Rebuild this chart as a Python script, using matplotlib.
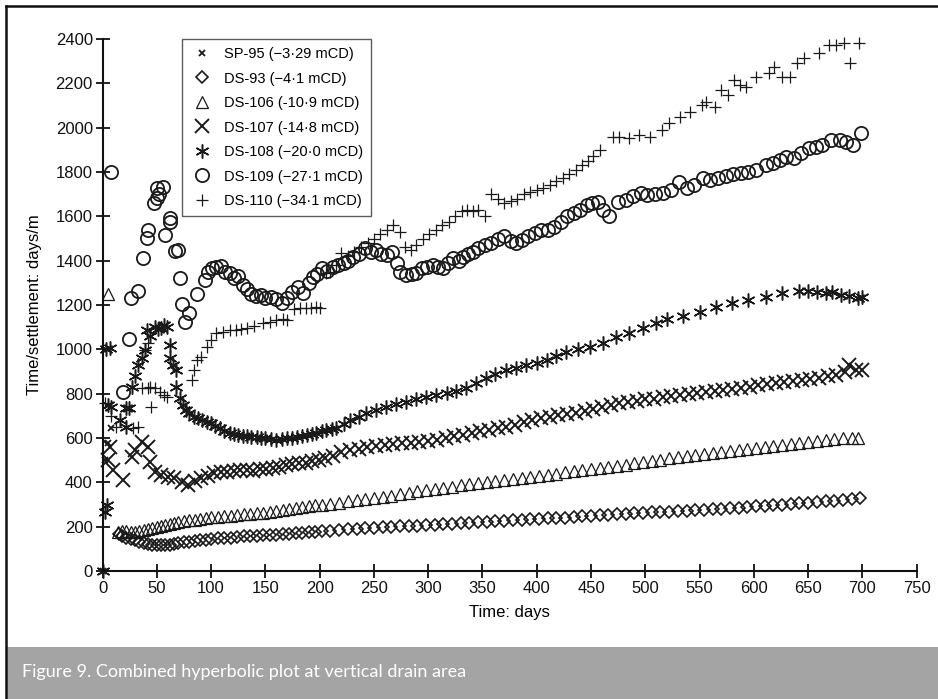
import matplotlib
matplotlib.use("Agg")
import matplotlib.pyplot as plt
from matplotlib.patches import Rectangle
from matplotlib.lines import Line2D

plt.rcParams['font.family'] = ['Liberation Sans', 'DejaVu Sans']

# SP-95 (-3.29 mCD)
sp95_days = [0, 2, 5, 8]
sp95_vals = [0, 501, 576, 644]

# DS-93 (-4.1 mCD)
ds93_days = [15, 18, 22, 26, 30, 34, 38, 42, 46, 50,
             54, 58, 62, 66, 70, 75, 80, 85, 90, 95,
             100, 106, 112, 118, 124, 130, 136, 142, 148, 154,
             160, 166, 172, 178, 184, 190, 196, 202, 210, 218,
             226, 234, 242, 250, 258, 266, 274, 282, 290, 298,
             306, 314, 322, 330, 338, 346, 354, 362, 370, 378,
             386, 394, 402, 410, 418, 426, 434, 442, 450, 458,
             466, 474, 482, 490, 498, 506, 514, 522, 530, 538,
             546, 554, 562, 570, 578, 586, 594, 602, 610, 618,
             626, 634, 642, 650, 658, 666, 674, 682, 690, 698]
ds93_vals = [165, 158, 150, 146, 140, 133, 126, 121, 118, 117,
             116, 117, 118, 121, 125, 129, 132, 135, 138, 141,
             144, 147, 149, 151, 153, 156, 158, 160, 161, 163,
             164, 166, 168, 170, 172, 175, 177, 179, 182, 185,
             188, 190, 192, 194, 197, 199, 201, 203, 205, 207,
             209, 211, 213, 215, 217, 220, 222, 224, 227, 229,
             231, 233, 235, 237, 239, 241, 243, 246, 250, 252,
             254, 256, 258, 260, 262, 264, 266, 268, 270, 272,
             274, 276, 279, 281, 284, 286, 289, 291, 294, 296,
             299, 302, 305, 308, 311, 314, 317, 320, 324, 330]

# DS-106 (-10.9 mCD)
ds106_days = [5, 14, 18, 22, 26, 30, 34, 38, 42, 46, 50,
              54, 58, 62, 66, 70, 75, 80, 85, 90, 95,
              100, 106, 112, 118, 124, 130, 136, 142, 148, 154,
              160, 166, 172, 178, 184, 190, 196, 202, 210, 218,
              226, 234, 242, 250, 258, 266, 274, 282, 290, 298,
              306, 314, 322, 330, 338, 346, 354, 362, 370, 378,
              386, 394, 402, 410, 418, 426, 434, 442, 450, 458,
              466, 474, 482, 490, 498, 506, 514, 522, 530, 538,
              546, 554, 562, 570, 578, 586, 594, 602, 610, 618,
              626, 634, 642, 650, 658, 666, 674, 682, 690, 696]
ds106_vals = [1250, 175, 180, 182, 178, 176, 180, 186, 190, 196, 200,
              204, 208, 212, 215, 220, 224, 228, 232, 236, 238,
              242, 245, 247, 249, 252, 255, 257, 260, 263, 266,
              270, 274, 280, 284, 288, 292, 296, 299, 304, 309,
              314, 319, 323, 328, 334, 340, 347, 354, 360, 366,
              371, 376, 381, 386, 391, 396, 401, 405, 409, 413,
              418, 422, 427, 432, 438, 445, 450, 455, 460, 465,
              470, 475, 480, 486, 492, 498, 503, 508, 513, 518,
              522, 527, 532, 536, 541, 546, 551, 556, 560, 565,
              569, 574, 578, 583, 587, 591, 595, 598, 600, 598]

# DS-107 (-14.8 mCD)
ds107_days = [5, 7, 10, 19, 27, 30, 36, 42, 44, 48,
              54, 60, 66, 73, 79, 85, 91, 97, 103, 109,
              115, 121, 127, 133, 139, 145, 151, 157, 163, 169,
              175, 181, 187, 193, 199, 205, 212, 220, 228, 236,
              244, 252, 260, 268, 276, 284, 292, 300, 308, 316,
              324, 332, 340, 348, 356, 364, 372, 380, 388, 396,
              404, 412, 420, 428, 436, 444, 452, 460, 468, 476,
              484, 492, 500, 508, 516, 524, 532, 540, 548, 556,
              564, 572, 580, 588, 596, 604, 612, 620, 628, 636,
              644, 652, 660, 668, 676, 684, 688, 694, 700]
ds107_vals = [501, 561, 456, 410, 516, 546, 583, 561, 493, 448,
              432, 425, 420, 403, 388, 405, 418, 430, 441, 446,
              448, 452, 455, 456, 452, 458, 460, 463, 470, 476,
              482, 486, 488, 494, 500, 510, 520, 535, 546, 552,
              558, 563, 567, 572, 576, 579, 582, 585, 592, 600,
              608, 614, 622, 630, 637, 644, 651, 660, 670, 680,
              688, 695, 702, 708, 714, 722, 730, 740, 748, 756,
              762, 768, 774, 778, 783, 788, 792, 797, 801, 806,
              811, 815, 820, 826, 832, 838, 843, 848, 852, 857,
              862, 867, 872, 878, 885, 900, 928, 905, 905]

# DS-108 (-20.0 mCD)
ds108_days = [0, 2, 4, 3, 7, 5, 8, 16, 22, 22,
              24, 27, 30, 33, 36, 39, 41, 44, 48, 51,
              54, 57, 59, 62, 62, 65, 68, 68, 71, 74,
              77, 80, 84, 88, 92, 96, 100, 104, 108, 112,
              117, 121, 125, 129, 133, 137, 142, 146, 150, 155,
              160, 165, 170, 175, 179, 184, 188, 193, 197, 202,
              206, 211, 215, 222, 228, 236, 243, 252, 261, 270,
              280, 289, 298, 307, 317, 326, 335, 344, 353, 362,
              372, 381, 390, 400, 409, 418, 427, 438, 449, 461,
              473, 485, 498, 510, 520, 535, 550, 565, 580, 595,
              611, 626, 642, 650, 658, 666, 672, 680, 688, 696, 700]
ds108_vals = [0, 267, 300, 1000, 1004, 749, 741, 680, 734, 651,
              734, 831, 880, 929, 960, 997, 1087, 1060, 1102, 1090,
              1095, 1110, 1102, 1019, 959, 930, 907, 831, 779, 750,
              726, 712, 696, 688, 680, 672, 666, 655, 645, 632,
              621, 618, 615, 610, 608, 605, 606, 600, 598, 595,
              591, 594, 598, 602, 606, 610, 615, 618, 621, 630,
              636, 640, 645, 662, 681, 696, 711, 726, 741, 752,
              764, 775, 786, 793, 801, 812, 824, 846, 869, 888,
              907, 918, 929, 940, 952, 970, 989, 1000, 1012, 1030,
              1055, 1075, 1095, 1118, 1135, 1152, 1170, 1190, 1207, 1222,
              1237, 1252, 1265, 1262, 1258, 1255, 1260, 1245, 1240, 1230, 1237]

# DS-109 (-27.1 mCD)
ds109_days = [8, 19, 24, 26, 33, 37, 41, 42, 47, 50,
              50, 52, 56, 58, 62, 62, 67, 70, 71, 73,
              76, 80, 87, 94, 97, 101, 105, 109, 113, 117,
              121, 125, 129, 133, 137, 141, 146, 150, 155, 160,
              165, 170, 175, 180, 185, 190, 194, 198, 202, 207,
              212, 217, 222, 226, 231, 236, 242, 247, 252, 257,
              262, 267, 271, 274, 280, 285, 289, 294, 299, 304,
              309, 314, 318, 323, 328, 332, 337, 341, 346, 352,
              358, 364, 370, 376, 381, 386, 392, 398, 404, 410,
              416, 422, 428, 434, 440, 446, 451, 456, 461, 467,
              475, 482, 489, 496, 502, 509, 516, 524, 531, 538,
              545, 553, 560, 567, 574, 581, 588, 595, 602, 611,
              618, 624, 630, 637, 643, 651, 657, 663, 671, 679,
              685, 691, 699]
ds109_vals = [1800, 809, 1046, 1233, 1263, 1412, 1502, 1538, 1660, 1682,
              1726, 1700, 1733, 1516, 1592, 1576, 1443, 1448, 1320, 1204,
              1125, 1165, 1248, 1313, 1350, 1365, 1373, 1375, 1350, 1345,
              1320, 1330, 1290, 1270, 1250, 1240, 1245, 1230, 1235, 1225,
              1210, 1230, 1260, 1280, 1253, 1300, 1328, 1340, 1365, 1355,
              1370, 1380, 1388, 1400, 1418, 1430, 1455, 1440, 1448, 1430,
              1425, 1440, 1388, 1350, 1335, 1340, 1343, 1365, 1370, 1380,
              1372, 1365, 1390, 1410, 1400, 1418, 1430, 1440, 1455, 1470,
              1480, 1500, 1510, 1490, 1480, 1495, 1510, 1525, 1540, 1538,
              1550, 1575, 1600, 1615, 1630, 1650, 1660, 1665, 1628, 1600,
              1666, 1673, 1690, 1704, 1696, 1700, 1704, 1718, 1756, 1726,
              1741, 1771, 1765, 1775, 1780, 1790, 1795, 1800, 1809, 1831,
              1840, 1854, 1869, 1861, 1884, 1907, 1915, 1921, 1944, 1944,
              1936, 1921, 1974]

# DS-110 (-34.1 mCD)
ds110_days = [2, 8, 12, 28, 33, 36, 39, 42, 42, 44,
              45, 48, 53, 57, 59, 82, 84, 87, 91, 96,
              100, 105, 111, 117, 123, 128, 133, 140, 148, 154,
              160, 166, 170, 176, 182, 187, 192, 197, 200, 206,
              210, 215, 220, 226, 232, 238, 245, 250, 256, 262,
              268, 274, 279, 284, 289, 295, 301, 307, 313, 319,
              325, 331, 336, 341, 346, 352, 358, 364, 370, 376,
              382, 388, 394, 400, 406, 412, 418, 424, 430, 436,
              442, 447, 452, 458, 470, 476, 485, 494, 504, 515,
              522, 532, 541, 552, 556, 564, 570, 576, 582, 587,
              593, 602, 614, 619, 626, 633, 640, 646, 660, 669,
              676, 683, 689, 697]
ds110_vals = [760, 700, 650, 644, 650, 824, 997, 1027, 824, 831,
              741, 826, 809, 794, 786, 862, 907, 952, 967, 1012,
              1040, 1072, 1079, 1085, 1087, 1090, 1095, 1105, 1117, 1125,
              1132, 1135, 1132, 1180, 1186, 1188, 1186, 1190, 1186, 1343,
              1350, 1380, 1433, 1420, 1440, 1460, 1480, 1500, 1520, 1540,
              1560, 1530, 1460, 1450, 1470, 1500, 1520, 1540, 1560, 1575,
              1600, 1625, 1628, 1625, 1630, 1600, 1700, 1680, 1660, 1670,
              1680, 1700, 1710, 1720, 1730, 1740, 1760, 1775, 1790, 1810,
              1830, 1850, 1870, 1899, 1958, 1960, 1955, 1965, 1960, 1989,
              2019, 2049, 2072, 2102, 2117, 2094, 2170, 2147, 2215, 2192,
              2185, 2230, 2245, 2275, 2230, 2230, 2290, 2313, 2335, 2373,
              2373, 2380, 2290, 2380]

legend_labels = ['SP-95 (\u22123\u00b729 mCD)', 'DS-93 (\u22124\u00b71 mCD)',
                 'DS-106 (-10\u00b79 mCD)', 'DS-107 (-14\u00b78 mCD)',
                 'DS-108 (\u221220\u00b70 mCD)', 'DS-109 (\u221227\u00b71 mCD)',
                 'DS-110 (\u221234\u00b71 mCD)']
caption = 'Figure 9. Combined hyperbolic plot at vertical drain area'

ink = '#1a1a1a'
series = [
    (sp95_days, sp95_vals, dict(marker='x', ms=5, mew=1.3)),
    (ds93_days, ds93_vals, dict(marker='D', ms=6, mew=1.2)),
    (ds106_days, ds106_vals, dict(marker='^', ms=8.5, mew=0.9)),
    (ds107_days, ds107_vals, dict(marker='x', ms=10, mew=1.4)),
    (ds108_days, ds108_vals, dict(marker=(6, 2, 0), ms=10, mew=1.1)),
    (ds109_days, ds109_vals, dict(marker='o', ms=9.5, mew=1.3)),
    (ds110_days, ds110_vals, dict(marker='+', ms=9, mew=0.9)),
]

fig = plt.figure(figsize=(9.38, 6.99), dpi=100)
fig.patch.set_facecolor('white')

# caption bar and page frame
fig.add_artist(Rectangle((6 / 938, 0), 1, 52 / 699, transform=fig.transFigure,
                         facecolor='#a4a4a4', edgecolor='none'))
fig.add_artist(Line2D([6 / 938, 6 / 938], [0, 1 - 6 / 699], transform=fig.transFigure,
                      color='#111111', lw=1.8))
fig.add_artist(Line2D([6 / 938, 1], [1 - 6 / 699, 1 - 6 / 699], transform=fig.transFigure,
                      color='#111111', lw=1.8))
fig.text(22 / 938, 27 / 699, caption, family=['Lato', 'DejaVu Sans'], fontsize=13,
         color='white', va='center', ha='left')

ax = fig.add_axes([102.5 / 938, 1 - 571 / 699, 814.2 / 938, 532 / 699])
handles = []
for (d, v, st), lab in zip(series, legend_labels):
    h, = ax.plot(d, v, linestyle='none', mfc='none', mec=ink, color=ink,
                 clip_on=False, label=lab, **st)
    handles.append(h)

ax.set_xlim(0, 750)
ax.set_ylim(0, 2400)
ax.set_xticks(range(0, 751, 50))
ax.set_yticks(range(0, 2401, 200))
for s in ['top', 'right']:
    ax.spines[s].set_visible(False)
for s in ['left', 'bottom']:
    ax.spines[s].set_linewidth(1.5)
    ax.spines[s].set_color('#111111')
ax.tick_params(direction='inout', length=10, width=1.3, labelsize=12, pad=2,
               colors='#111111')
ax.set_xlabel('Time: days', fontsize=12, labelpad=7)
ax.set_ylabel('Time/settlement: days/m', fontsize=12, labelpad=10)

leg = ax.legend(handles=handles, loc='upper left', bbox_to_anchor=(0.098, 1.0),
                borderaxespad=0, fontsize=10.5, frameon=True, fancybox=False,
                labelspacing=0.72, handletextpad=0.7, handlelength=1.6,
                borderpad=0.55)
leg.get_frame().set_edgecolor('#333333')
leg.get_frame().set_linewidth(1.0)

fig.savefig('out.png', dpi=100)
